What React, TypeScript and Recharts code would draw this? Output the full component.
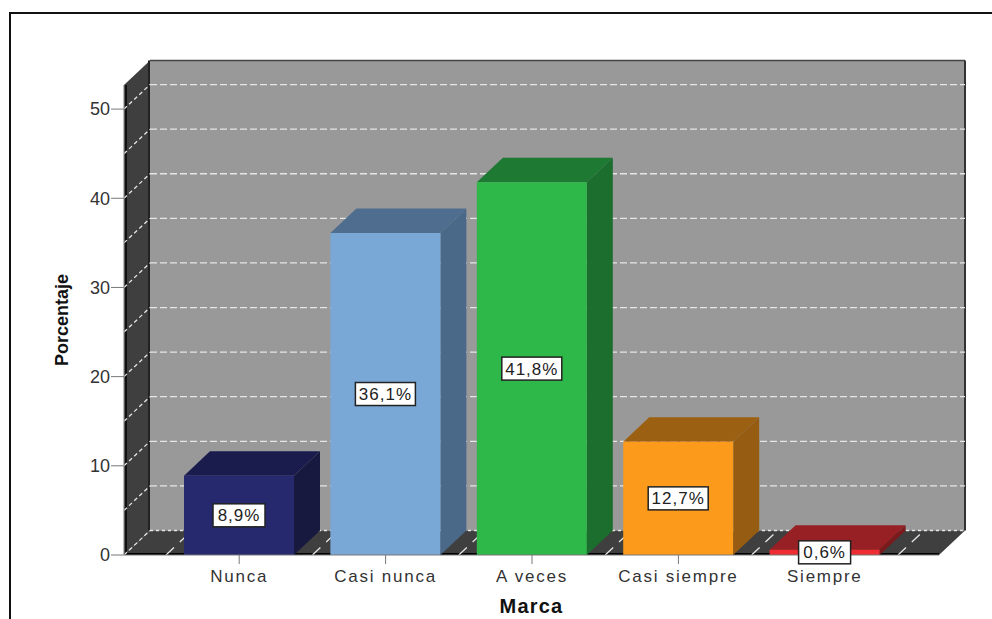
import { BarChart, Bar, XAxis, YAxis, ReferenceArea, ReferenceLine, LabelList, Label } from 'recharts'

const categories = ['Nunca', 'Casi nunca', 'A veces', 'Casi siempre', 'Siempre']
const percentages = [8.9, 36.1, 41.8, 12.7, 0.6]
const yTicks = [0, 10, 20, 30, 40, 50]
const gridValues = [5, 10, 15, 20, 25, 30, 35, 40, 45, 50]

const frontColors = ['#27296f', '#7aa8d6', '#2fb84a', '#fb9a1b', '#ee2c32']
const topColors = ['#1b1c4e', '#4f6e8f', '#1e7a33', '#9c6012', '#962023']
const sideColors = ['#18193f', '#4a6888', '#1c6e2e', '#965c11', '#7a1a1d']

const DX = 26
const DY = 24.5
const PAD_LEFT = 42
const PAD_RIGHT = 41
const PLOT_WIDTH = 815
const Y_MAX = 52.7

const data = categories.map((name, i) => ({ name, value: percentages[i] }))
const step = (PLOT_WIDTH - PAD_LEFT - PAD_RIGHT) / categories.length

// the area only covers the padded band range, so widen it back to the plot
function Walls({ x: bandX, y, width: bandW, height }: any) {
  const x = bandX - PAD_LEFT
  const width = bandW + PAD_LEFT + PAD_RIGHT
  const r = x + width
  const b = y + height
  return (
    <g>
      <rect x={x + DX} y={y - DY} width={width} height={height} fill="#999999" />
      <polygon points={`${x},${y} ${x + DX},${y - DY} ${x + DX},${b - DY} ${x},${b}`} fill="#3f3f3f" />
      <polygon points={`${x},${b} ${x + DX},${b - DY} ${r + DX},${b - DY} ${r},${b}`} fill="#3f3f3f" />
      <line x1={x + DX} y1={y - DY} x2={r + DX} y2={y - DY} stroke="#444" strokeWidth={1.5} />
      <line x1={r + DX} y1={y - DY} x2={r + DX} y2={b - DY} stroke="#333" strokeWidth={2} />
      <line x1={x + DX - 1} y1={y - DY} x2={x + DX - 1} y2={b - DY} stroke="#222" strokeWidth={2} />
      <line x1={x + 2} y1={y} x2={x + 2} y2={b} stroke="#111" strokeWidth={2} />
      <line x1={x} y1={b - 1} x2={r} y2={b - 1} stroke="#000" strokeWidth={2} />
    </g>
  )
}

function GridLine({ x1, y1, x2 }: any) {
  return (
    <g stroke="#e6e6e6" strokeWidth={1.3} fill="none">
      <line x1={x1} y1={y1} x2={x1 + DX} y2={y1 - DY} strokeDasharray="4 3" />
      <line x1={x1 + DX} y1={y1 - DY} x2={x2 + DX} y2={y1 - DY} strokeDasharray="7 3" />
    </g>
  )
}

function ZeroLine({ x1, y1, x2 }: any) {
  return (
    <g stroke="#e6e6e6" strokeWidth={1.3} fill="none">
      <line x1={x1} y1={y1} x2={x1 + DX} y2={y1 - DY} strokeDasharray="4 3" />
      <line x1={x1 + DX} y1={y1 - DY} x2={x2 + DX} y2={y1 - DY} strokeDasharray="3 3" />
    </g>
  )
}

function FloorLine({ x1, y1, y2, index }: any) {
  const bottom = Math.max(y1, y2)
  const px = x1 - step / 2
  const lines = index === categories.length - 1 ? [px, x1 + step / 2] : [px]
  return (
    <g stroke="#e6e6e6" strokeWidth={1.3}>
      {lines.map((p) => (
        <line key={p} x1={p} y1={bottom} x2={p + DX} y2={bottom - DY} strokeDasharray="11 8" />
      ))}
    </g>
  )
}

function Bar3D({ x, y, width, height, index }: any) {
  const r = x + width
  const b = y + height
  return (
    <g>
      <polygon points={`${x},${y} ${x + DX},${y - DY} ${r + DX},${y - DY} ${r},${y}`} fill={topColors[index]} />
      <polygon points={`${r},${y} ${r + DX},${y - DY} ${r + DX},${b - DY} ${r},${b}`} fill={sideColors[index]} />
      <rect x={x} y={y} width={width} height={height} fill={frontColors[index]} />
    </g>
  )
}

function ValueBox({ x, y, width, height, value }: any) {
  const cx = x + width / 2
  const cy = y + height / 2
  const label = String(value).replace('.', ',') + '%'
  const boxW = label.length > 4 ? 60 : 52
  return (
    <g>
      <rect x={cx - boxW / 2} y={cy - 11.5} width={boxW} height={23} fill="#fff" stroke="#222" strokeWidth={1.5} />
      <text
        x={cx}
        y={cy + 6}
        textAnchor="middle"
        fontFamily="Liberation Sans"
        fontSize={17}
        letterSpacing={1}
        fill="#222"
      >
        {label}
      </text>
    </g>
  )
}

export default function App() {
  return (
    <div style={{ position: 'absolute', left: 0, top: 0, width: 992, height: 619, overflow: 'hidden', background: '#fff' }}>
      <div
        style={{
          position: 'absolute',
          left: 9,
          top: 12,
          width: 990,
          height: 620,
          borderLeft: '2px solid #111',
          borderTop: '2px solid #111',
        }}
      />
      <div style={{ position: 'absolute', left: 0, top: 0 }}>
        <BarChart
          width={992}
          height={619}
          data={data}
          margin={{ top: 85, right: 53, left: 52, bottom: 0 }}
          barSize={110}
        >
          <XAxis
            dataKey="name"
            height={64}
            padding={{ left: PAD_LEFT, right: PAD_RIGHT }}
            stroke="#777"
            tickSize={9}
            tickMargin={6}
            tick={{ fontSize: 17, fill: '#333', fontFamily: 'Liberation Sans', letterSpacing: 1.75 }}
            interval={0}
          >
            <Label
              value="Marca"
              position="insideBottom"
              offset={6}
              style={{ fontSize: 20, fontWeight: 700, fontFamily: 'Liberation Sans', fill: '#111', letterSpacing: 1.2 }}
            />
          </XAxis>
          <YAxis
            width={72}
            domain={[0, Y_MAX]}
            ticks={yTicks}
            allowDataOverflow
            stroke="#777"
            tickSize={13}
            tickMargin={1}
            tick={{ fontSize: 18, fill: '#333', fontFamily: 'Liberation Sans' }}
          >
            <Label
              value="Porcentaje"
              angle={-90}
              position="insideLeft"
              offset={10}
              style={{ textAnchor: 'middle', fontSize: 18, fontWeight: 700, fontFamily: 'Liberation Sans', fill: '#111' }}
            />
          </YAxis>
          <ReferenceArea y1={0} y2={Y_MAX} shape={<Walls />} fillOpacity={1} />
          <ReferenceLine y={0} shape={<ZeroLine />} zIndex={100} />
          {gridValues.map((v) => (
            <ReferenceLine key={v} y={v} shape={<GridLine />} zIndex={100} />
          ))}
          {categories.map((c, i) => (
            <ReferenceLine key={c} x={c} shape={<FloorLine index={i} />} zIndex={100} />
          ))}
          <Bar dataKey="value" shape={<Bar3D />} isAnimationActive={false}>
            <LabelList dataKey="value" content={<ValueBox />} />
          </Bar>
        </BarChart>
      </div>
    </div>
  )
}
